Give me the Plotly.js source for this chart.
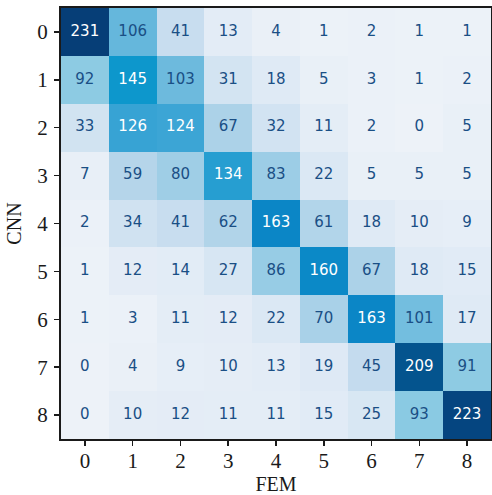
<!DOCTYPE html>
<html>
<head>
<meta charset="utf-8">
<script src="https://cdn.plot.ly/plotly-3.0.1.min.js"></script>
<style>html,body{margin:0;padding:0;background:#fff;}#chart{width:492px;height:495px;}</style>
</head>
<body>
<div id="chart"></div>
<script>
var labels = ["0","1","2","3","4","5","6","7","8"];
var row0 = [231,106,41,13,4,1,2,1,1];
var row1 = [92,145,103,31,18,5,3,1,2];
var row2 = [33,126,124,67,32,11,2,0,5];
var row3 = [7,59,80,134,83,22,5,5,5];
var row4 = [2,34,41,62,163,61,18,10,9];
var row5 = [1,12,14,27,86,160,67,18,15];
var row6 = [1,3,11,12,22,70,163,101,17];
var row7 = [0,4,9,10,13,19,45,209,91];
var row8 = [0,10,12,11,11,15,25,93,223];
var z = [row0,row1,row2,row3,row4,row5,row6,row7,row8];

var zmax = 231;
var colorscale = [
  [0.0, "#edf2f8"],
  [0.056, "#e3ecf6"],
  [0.134, "#d3e4f2"],
  [0.177, "#c8ddef"],
  [0.29, "#acd2e8"],
  [0.36, "#9ccde6"],
  [0.40, "#8ccbe3"],
  [0.45, "#6ab9dd"],
  [0.54, "#3aa4d5"],
  [0.63, "#0c97cc"],
  [0.706, "#0b86c6"],
  [0.905, "#04548e"],
  [0.965, "#054580"],
  [1.0, "#063e77"]
];

var tx = [], ty = [], tt = [], tc = [];
for (var i = 0; i < z.length; i++) {
  for (var j = 0; j < z[i].length; j++) {
    tx.push(labels[j]); ty.push(labels[i]); tt.push(String(z[i][j]));
    tc.push(z[i][j] > zmax / 2 ? "#ffffff" : "#1a4f85");
  }
}

var data = [
  {type: "heatmap", x: labels, y: labels, z: z, zmin: 0, zmax: zmax,
   colorscale: colorscale, showscale: false, xgap: 0, ygap: 0, hoverinfo: "none"},
  {type: "scatter", mode: "text", x: tx, y: ty, text: tt,
   textfont: {family: "DejaVu Sans", size: 15, color: tc}, hoverinfo: "none", showlegend: false}
];

function axisCommon() {
  return {
    type: "category",
    showgrid: false, zeroline: false,
    showline: true, linecolor: "#1a1a1a", linewidth: 2, mirror: true,
    ticks: "outside", ticklen: 5, tickwidth: 1.5, tickcolor: "#1a1a1a",
    tickfont: {family: "Liberation Serif", size: 21, color: "#1a1a1a"}
  };
}

var layout = {
  width: 492, height: 495,
  margin: {l: 61, r: 1, t: 8, b: 56},
  paper_bgcolor: "#ffffff", plot_bgcolor: "#ffffff",
  showlegend: false,
  xaxis: Object.assign(axisCommon(), {
    ticklabelstandoff: -3,
    title: {text: "FEM", font: {family: "Liberation Serif", size: 20, color: "#1a1a1a"}, standoff: 8}
  }),
  yaxis: Object.assign(axisCommon(), {
    autorange: "reversed",
    ticklabelstandoff: 2,
    title: {text: "CNN", font: {family: "Liberation Serif", size: 20, color: "#1a1a1a"}, standoff: 10}
  })
};

Plotly.newPlot("chart", data, layout, {displayModeBar: false, staticPlot: true});
</script>
</body>
</html>
